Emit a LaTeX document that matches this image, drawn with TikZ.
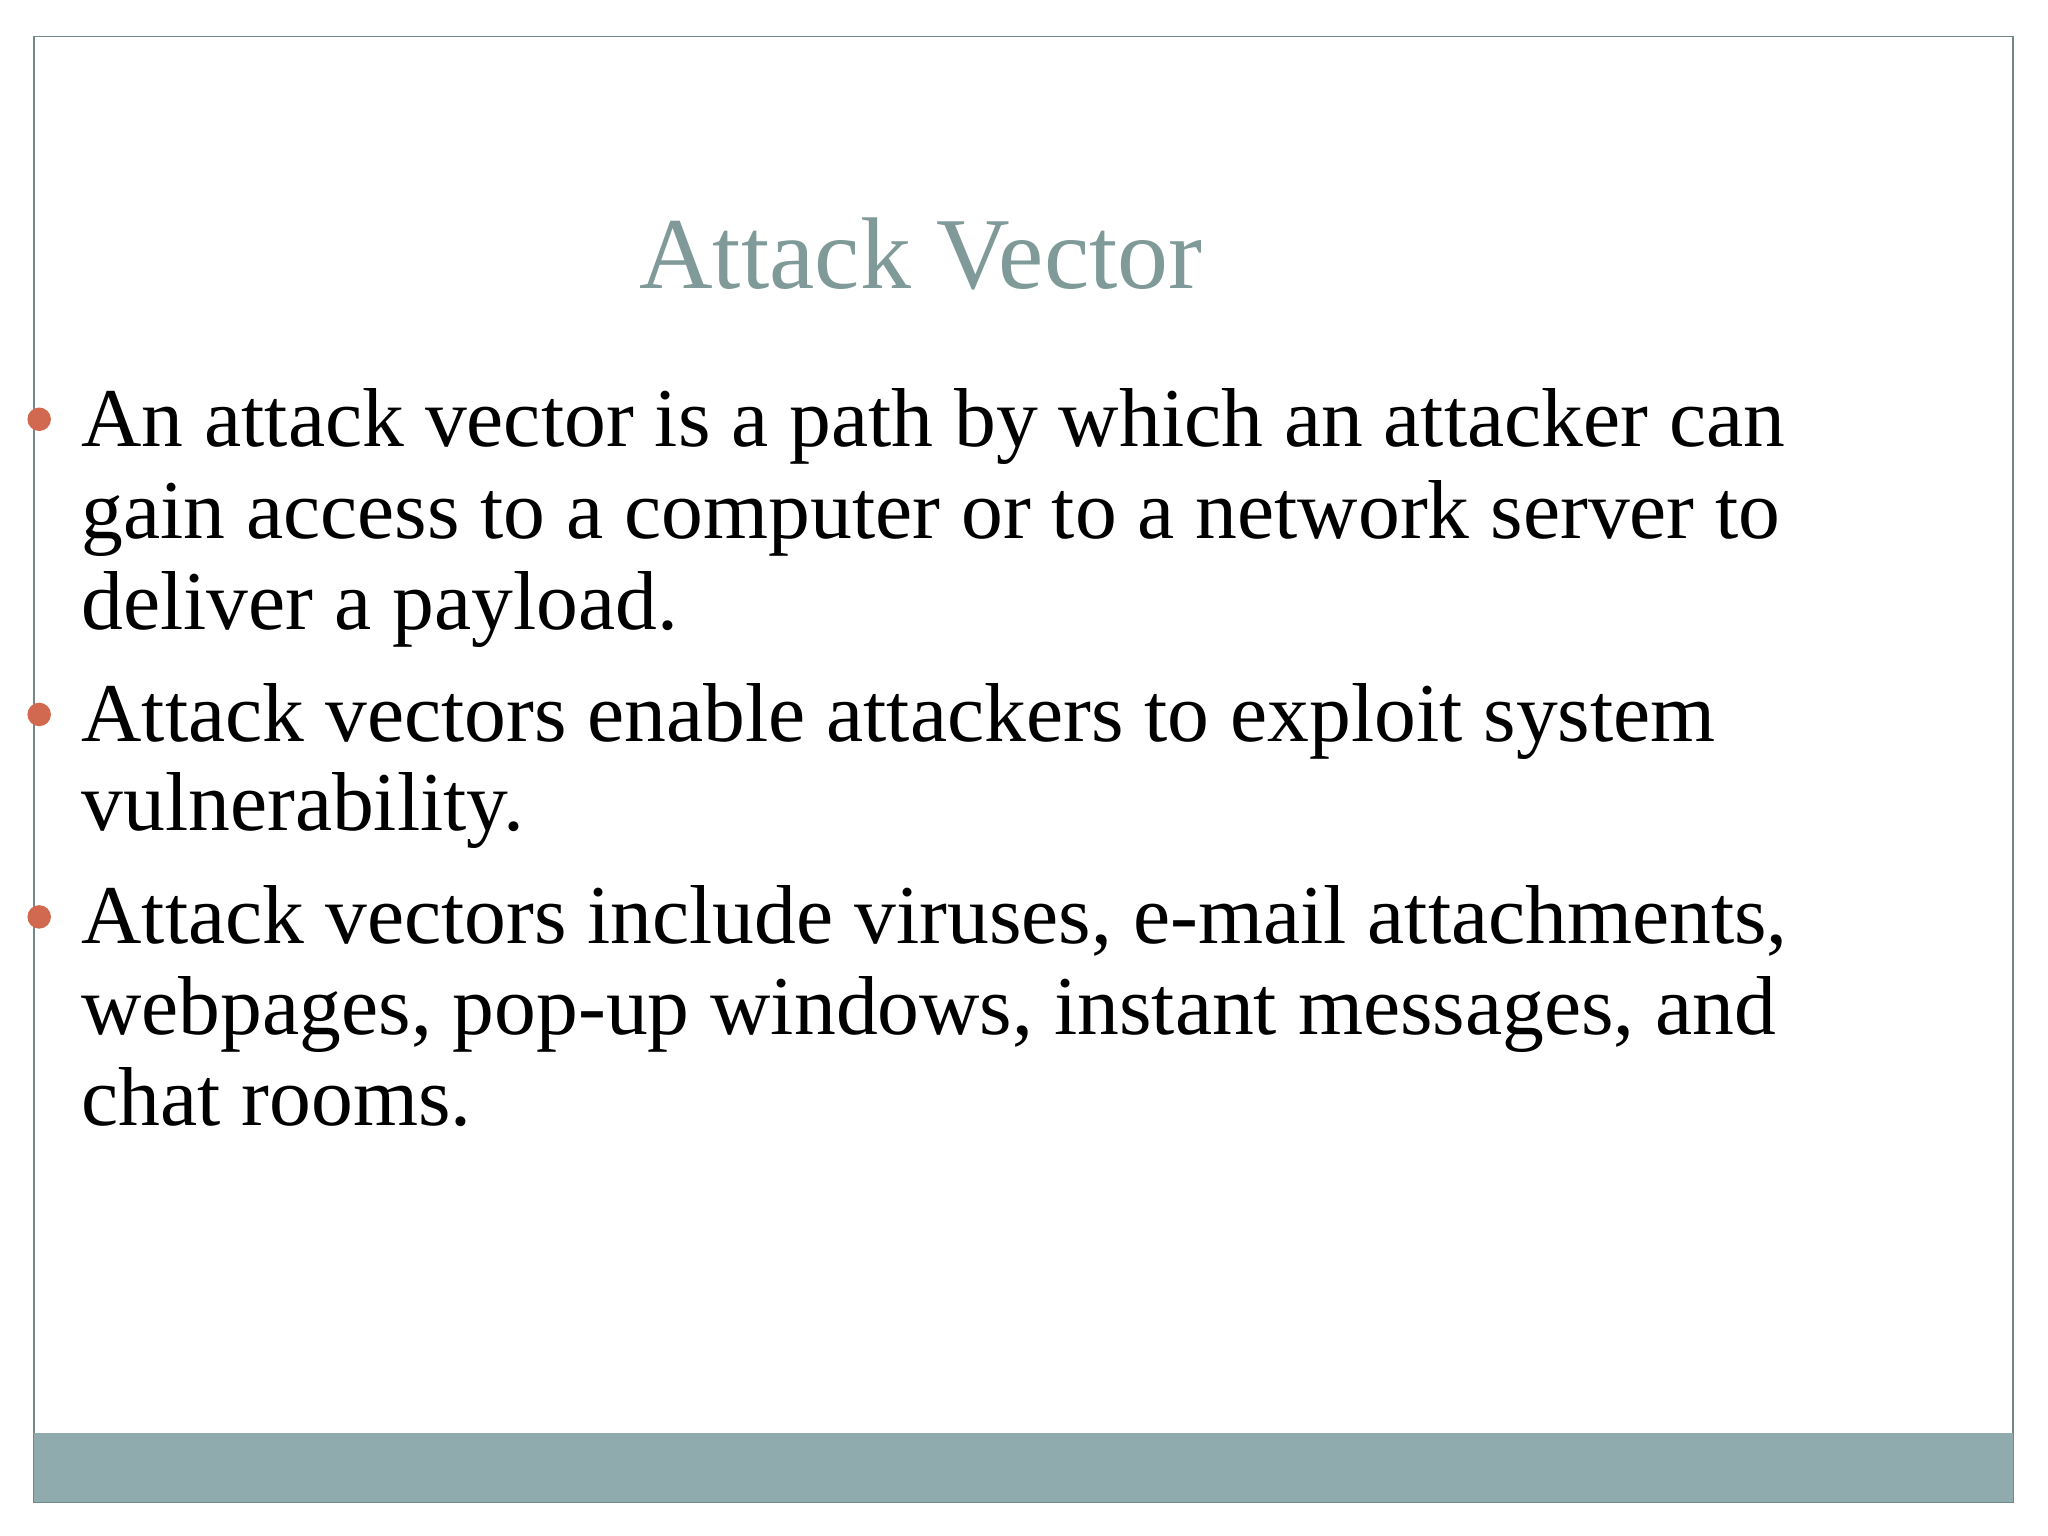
\documentclass[tikz,border=0pt]{standalone}
\usepackage{fontspec}
\setmainfont{Liberation Serif}
\definecolor{bar}{HTML}{8FABAD}
\definecolor{ttl}{HTML}{7F9A98}
\definecolor{bul}{HTML}{D0694F}
\begin{document}
\begin{tikzpicture}[x=0.5pt,y=-0.5pt,
  ln/.style={anchor=base west,inner sep=0pt,font=\fontsize{32}{38}\selectfont},
  dot/.style={circle,fill=bul,inner sep=0pt,minimum size=9pt}]
\useasboundingbox (0,0) rectangle (1568,1176);
\fill[white] (0,0) rectangle (1568,1176);
\draw[bar!80!black,line width=0.6pt] (26,28) rectangle (1541,1150);
\fill[bar] (26,1097) rectangle (1541,1150);
\node[anchor=base,inner sep=0pt,text=ttl,font=\fontsize{39}{45}\selectfont] (t) at (705,221) {Attack Vector};
\node[dot] (b1) at (30,321) {};
\node[dot] (b2) at (30,547) {};
\node[dot] (b3) at (30,702) {};
\node[ln] (l1) at (62,342) {An attack vector is a path by which an attacker can};
\node[ln] (l2) at (62,412) {gain access to a computer or to a network server to};
\node[ln] (l3) at (62,482) {deliver a payload.};
\node[ln] (l4) at (62,568) {Attack vectors enable attackers to exploit system};
\node[ln] (l5) at (62,636) {vulnerability.};
\node[ln] (l6) at (62,722) {Attack vectors include viruses, e-mail attachments,};
\node[ln] (l7) at (62,792) {webpages, pop-up windows, instant messages, and};
\node[ln] (l8) at (62,862) {chat rooms.};
\end{tikzpicture}
\end{document}
